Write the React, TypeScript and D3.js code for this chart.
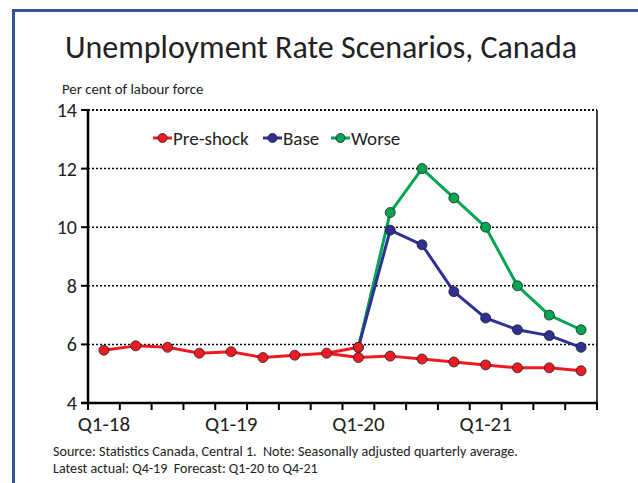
import React from "react";
import * as d3 from "d3";

const categories = ["Q1-18","Q2-18","Q3-18","Q4-18","Q1-19","Q2-19","Q3-19","Q4-19","Q1-20","Q2-20","Q3-20","Q4-20","Q1-21","Q2-21","Q3-21","Q4-21"];
const tickLabels = ["Q1-18","Q1-19","Q1-20","Q1-21"];
const yTicks = [4, 6, 8, 10, 12, 14];
const preShock = [5.8, 5.95, 5.9, 5.7, 5.75, 5.55, 5.63, 5.7, 5.55, 5.6, 5.5, 5.4, 5.3, 5.2, 5.2, 5.1];
// Actual path to first forecast quarter (shared start of Base/Worse)
const bridge: (number | null)[] = [null, null, null, null, null, null, null, 5.7, 5.9, null, null, null, null, null, null, null];
const base: (number | null)[] = [null, null, null, null, null, null, null, null, 5.9, 9.9, 9.4, 7.8, 6.9, 6.5, 6.3, 5.9];
const worse: (number | null)[] = [null, null, null, null, null, null, null, null, 5.9, 10.5, 12.0, 11.0, 10.0, 8.0, 7.0, 6.5];
const seriesNames = ["Pre-shock", "Base", "Worse"];

const RED = "#ED1C24";
const BLUE = "#2E3192";
const GREEN = "#00A651";
const FONT = "Carlito, Calibri, Lato, 'Open Sans', sans-serif";

export default function App() {
  const W = 638, H = 483;
  const left = 88, right = 597, top = 110, bottom = 403;
  const x = d3.scaleBand<string>().domain(categories).range([left, right]).padding(0);
  const y = d3.scaleLinear().domain([4, 14]).range([bottom, top]);
  const cx = (i: number) => (x(categories[i]) as number) + x.bandwidth() / 2;

  const line = d3.line<[number, number | null]>()
    .defined((d) => d[1] !== null)
    .x((d) => cx(d[0]))
    .y((d) => y(d[1] as number));

  const toPairs = (arr: (number | null)[]) => arr.map((v, i) => [i, v] as [number, number | null]);

  const seriesDraw = [
    { data: worse, color: GREEN, markerColor: (i: number) => (i === 8 ? RED : GREEN) },
    { data: base, color: BLUE, markerColor: (i: number) => (i === 8 ? RED : BLUE) },
    { data: preShock as (number | null)[], color: RED, markerColor: () => RED },
  ];

  const legendColors = [RED, BLUE, GREEN];
  const legendX = [153, 263, 331];

  return (
    <svg width={W} height={H} style={{ position: "absolute", left: 0, top: 0, background: "#fff" }} fontFamily={FONT}>
      <rect x={0} y={0} width={W} height={H} fill="#fff" />
      {/* frame */}
      <line x1={13.5} y1={9} x2={13.5} y2={H} stroke="#2F5597" strokeWidth={3} />
      <line x1={12} y1={10.5} x2={W} y2={10.5} stroke="#2F5597" strokeWidth={3} />

      <text x={321} y={58} textAnchor="middle" fontSize={32} fill="#222">Unemployment Rate Scenarios, Canada</text>
      <text x={62} y={94} fontSize={14.8} fill="#222">Per cent of labour force</text>

      {/* gridlines */}
      {yTicks.filter((t) => t > 4).map((t) => (
        <line key={t} x1={left} x2={right} y1={y(t)} y2={y(t)} stroke="#000" strokeWidth={t === 14 ? 2 : 1.5} strokeDasharray="2,2" />
      ))}
      {/* right border */}
      <line x1={right} x2={right} y1={top} y2={bottom + 6} stroke="#000" strokeWidth={1.5} />
      {/* y axis */}
      <line x1={left} x2={left} y1={top} y2={bottom} stroke="#000" strokeWidth={2.5} />
      {yTicks.map((t) => (
        <g key={t}>
          <line x1={left - 7} x2={left} y1={y(t)} y2={y(t)} stroke="#000" strokeWidth={2} />
          <text x={77} y={y(t)} dy="0.35em" textAnchor="end" fontSize={20} fill="#222">{t}</text>
        </g>
      ))}
      {/* x axis */}
      <line x1={left - 7} x2={right} y1={bottom} y2={bottom} stroke="#000" strokeWidth={2.5} />
      {categories.map((c) => (
        <line key={c} x1={x(c) as number} x2={x(c) as number} y1={bottom} y2={bottom + 7} stroke="#000" strokeWidth={2} />
      ))}
      <line x1={right} x2={right} y1={bottom} y2={bottom + 7} stroke="#000" strokeWidth={2} />
      {tickLabels.map((t) => (
        <text key={t} x={cx(categories.indexOf(t))} y={bottom + 28} textAnchor="middle" fontSize={21} fill="#222">{t}</text>
      ))}

      {/* lines */}
      <path d={line(toPairs(worse)) || ""} fill="none" stroke={GREEN} strokeWidth={3} strokeLinejoin="round" />
      <path d={line(toPairs(base)) || ""} fill="none" stroke={BLUE} strokeWidth={3} strokeLinejoin="round" />
      <path d={line(toPairs(preShock)) || ""} fill="none" stroke={RED} strokeWidth={3} strokeLinejoin="round" />
      <path d={line(toPairs(bridge)) || ""} fill="none" stroke={RED} strokeWidth={3} strokeLinejoin="round" />

      {/* markers */}
      {seriesDraw.map((s, si) =>
        s.data.map((v, i) =>
          v === null ? null : (
            <circle key={si + "-" + i} cx={cx(i)} cy={y(v)} r={5} fill={s.markerColor(i)} stroke="#222" strokeWidth={0.8} />
          )
        )
      )}

      {/* legend */}
      {seriesNames.map((n, i) => (
        <g key={n}>
          <line x1={legendX[i]} x2={legendX[i] + 19} y1={138} y2={138} stroke={legendColors[i]} strokeWidth={3} />
          <circle cx={legendX[i] + 9.5} cy={138} r={4.5} fill={legendColors[i]} stroke="#222" strokeWidth={0.8} />
          <text x={legendX[i] + 20} y={138} dy="0.35em" fontSize={19} fill="#222">{n}</text>
        </g>
      ))}

      <text x={53} y={456} fontSize={14.1} fill="#222" style={{ whiteSpace: "pre" }}>{"Source: Statistics Canada, Central 1.  Note: Seasonally adjusted quarterly average."}</text>
      <text x={53} y={473} fontSize={14.1} fill="#222" style={{ whiteSpace: "pre" }}>{"Latest actual: Q4-19  Forecast: Q1-20 to Q4-21"}</text>
    </svg>
  );
}
